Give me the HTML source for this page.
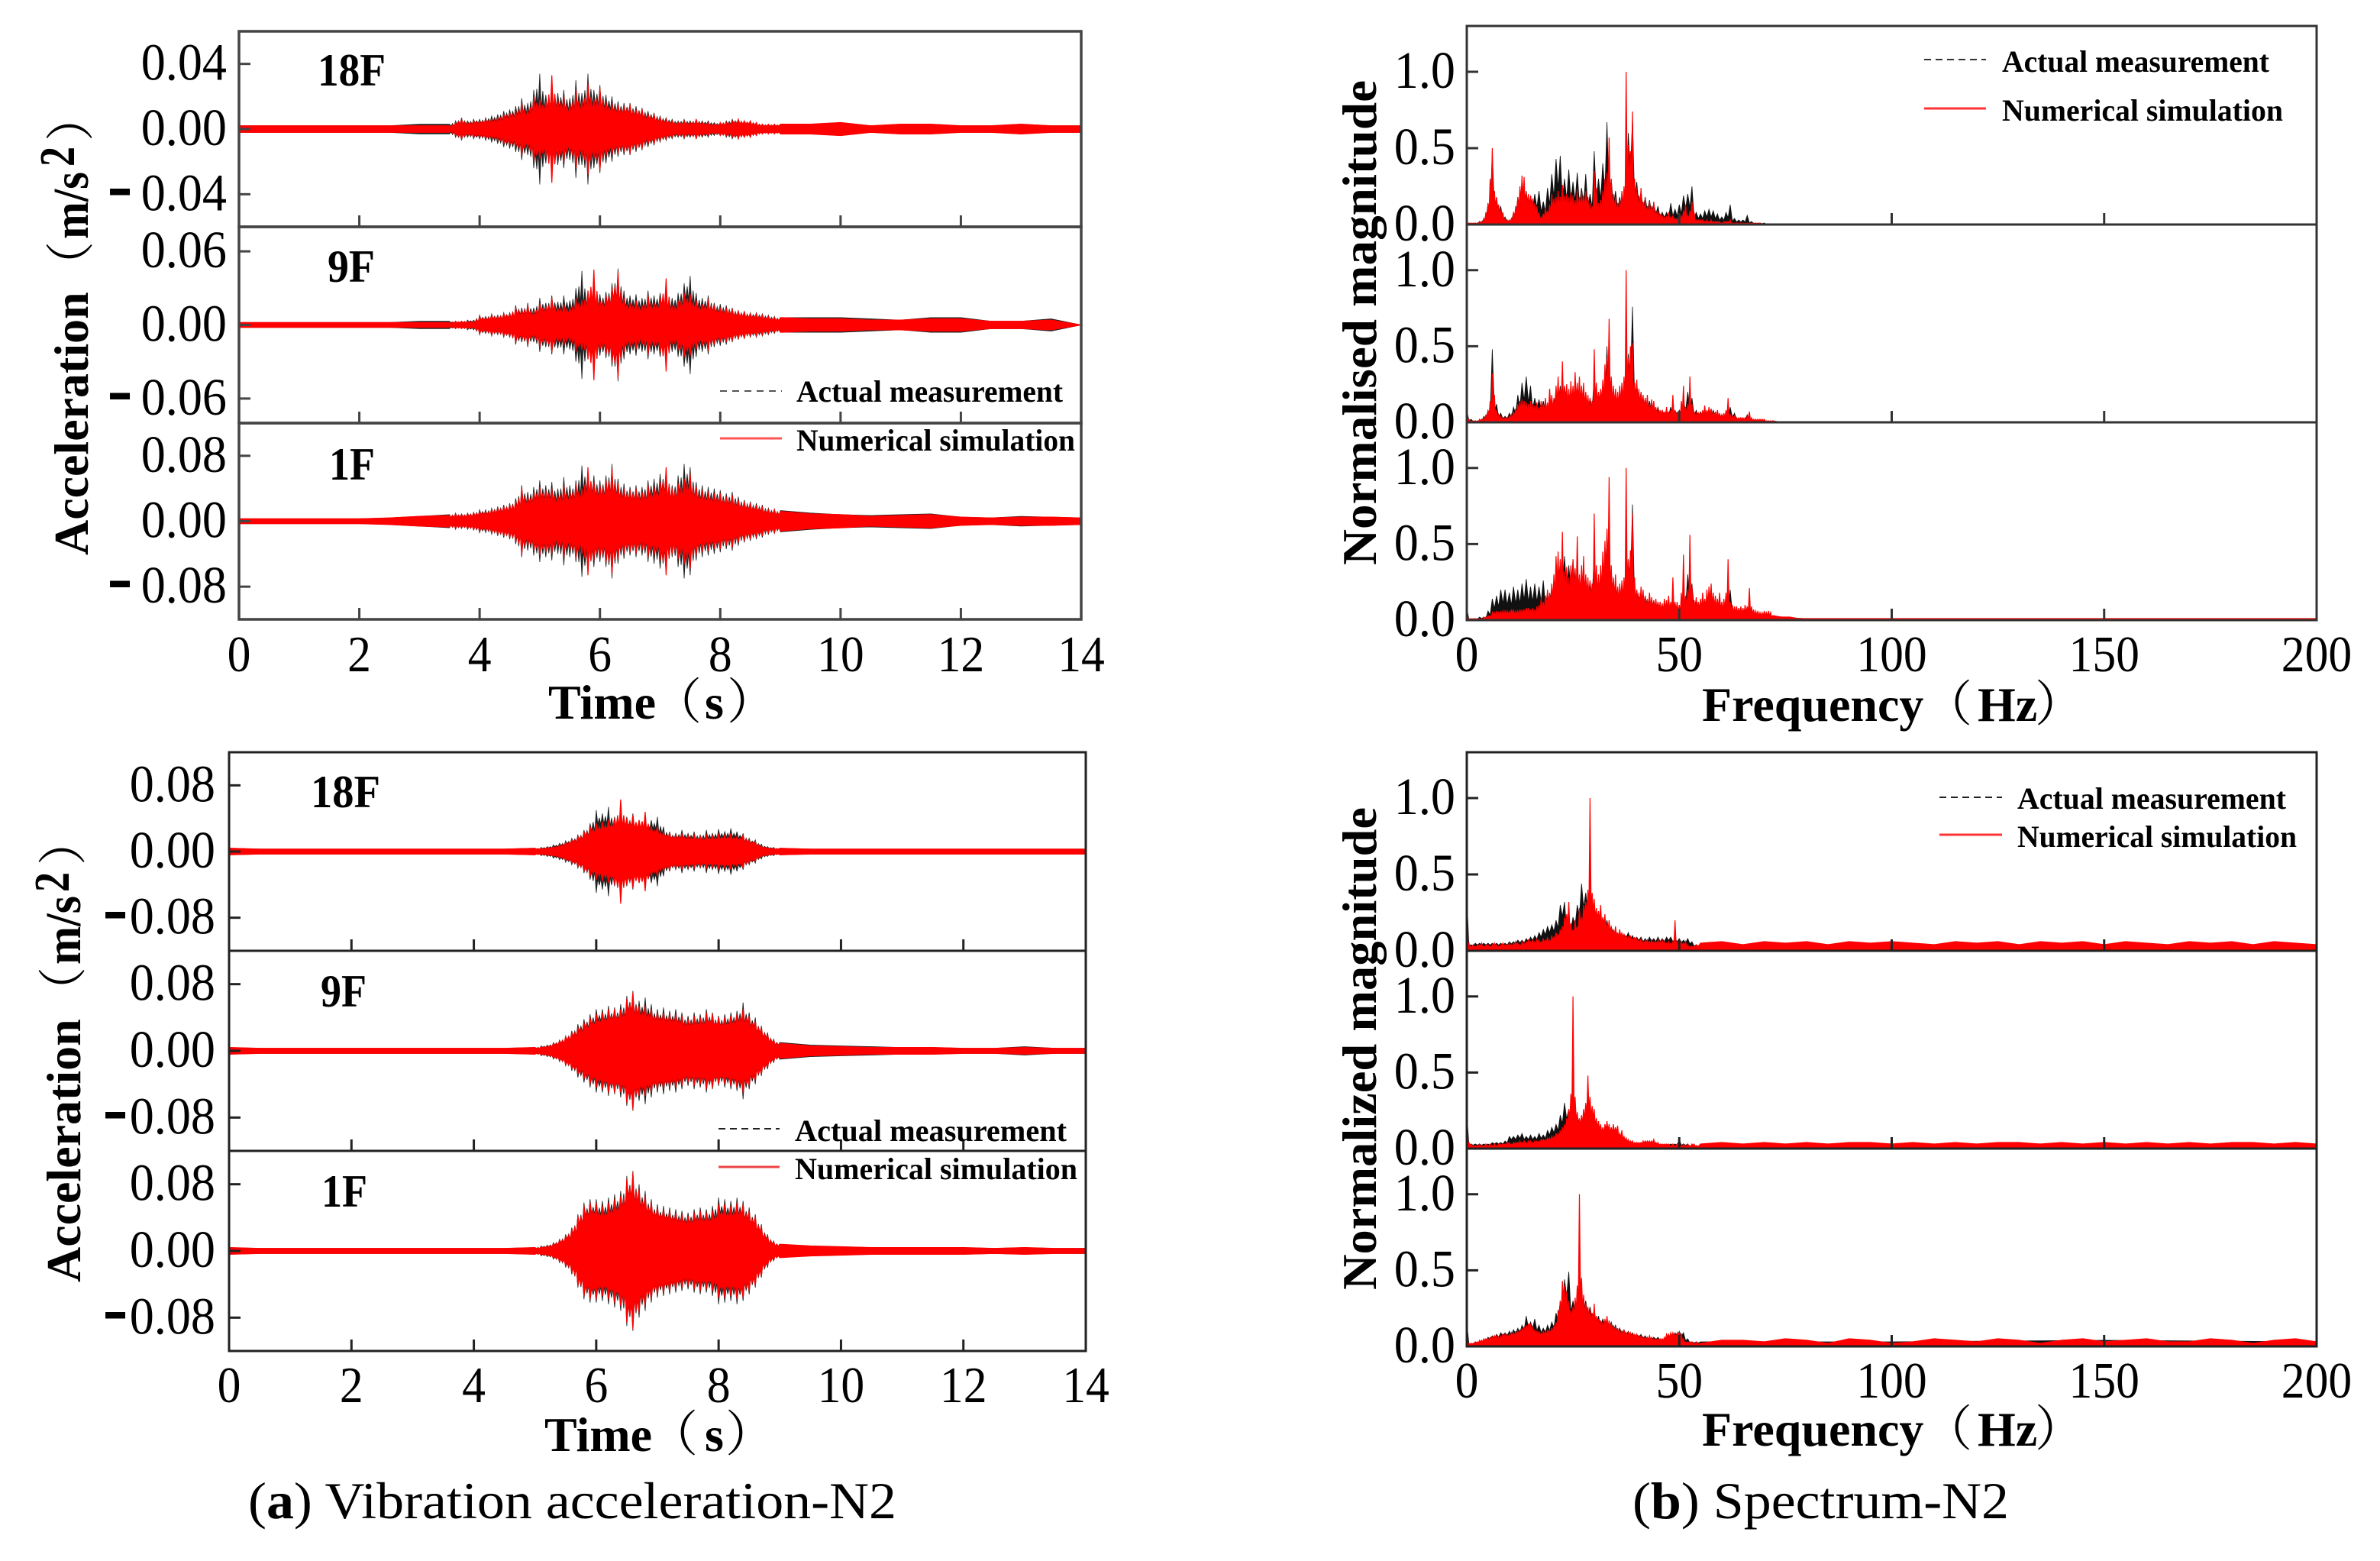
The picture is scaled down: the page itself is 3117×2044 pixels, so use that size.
<!DOCTYPE html>
<html lang="en">
<head>
<meta charset="utf-8">
<title>Vibration acceleration and spectrum N2</title>
<style>
html,body{margin:0;padding:0;background:#fff;}
svg{display:block;}
text{font-family:"Liberation Serif","Noto Serif CJK SC",serif;fill:#000;}
.b{font-weight:bold;}
.lg{font-size:40px;font-weight:bold;}
.fl{font-size:60px;font-weight:bold;}
.ax{font-size:64px;font-weight:bold;}
.cap{font-size:68px;}
</style>
</head>
<body>
<svg id="fig" xmlns="http://www.w3.org/2000/svg" width="3117" height="2044" viewBox="0 0 3117 2044">
<rect x="0" y="0" width="3117" height="2044" fill="#fff"/>
<g id="marks"></g>
<g id="axes"></g>

<g>
<text class="fl" x="416" y="112" textLength="89" lengthAdjust="spacingAndGlyphs">18F</text>
<text class="fl" x="429" y="369" textLength="62" lengthAdjust="spacingAndGlyphs">9F</text>
<text class="fl" x="431" y="628" textLength="60" lengthAdjust="spacingAndGlyphs">1F</text>
<text class="ax" transform="translate(115,727) rotate(-90)"><tspan x="0">Acceleration</tspan><tspan x="347" font-weight="normal">（</tspan><tspan x="414" font-size="66" textLength="88" lengthAdjust="spacingAndGlyphs">m/s</tspan><tspan x="509" dy="-18" font-size="66" textLength="26" lengthAdjust="spacingAndGlyphs">2</tspan><tspan x="542" dy="18" font-weight="normal">）</tspan></text>
<text class="ax" y="941"><tspan x="718">Time</tspan><tspan x="855" font-weight="normal">（</tspan><tspan x="923">s</tspan><tspan x="952" font-weight="normal">）</tspan></text>
<line x1="943" x2="1024" y1="512" y2="512" stroke="#555" stroke-width="2" stroke-dasharray="9 7"/>
<text class="lg" x="1043" y="526" textLength="349" lengthAdjust="spacingAndGlyphs">Actual measurement</text>
<line x1="943" x2="1024" y1="574" y2="574" stroke="#f55" stroke-width="3"/>
<text class="lg" x="1043" y="590" textLength="365" lengthAdjust="spacingAndGlyphs">Numerical simulation</text>
</g>

<g>
<text class="fl" x="407" y="1057" textLength="91" lengthAdjust="spacingAndGlyphs">18F</text>
<text class="fl" x="420" y="1318" textLength="60" lengthAdjust="spacingAndGlyphs">9F</text>
<text class="fl" x="421" y="1580" textLength="60" lengthAdjust="spacingAndGlyphs">1F</text>
<text class="ax" transform="translate(105,1679) rotate(-90)"><tspan x="0">Acceleration</tspan><tspan x="349" font-weight="normal">（</tspan><tspan x="416" font-size="66" textLength="90" lengthAdjust="spacingAndGlyphs">m/s</tspan><tspan x="511" dy="-15" font-size="66" textLength="26" lengthAdjust="spacingAndGlyphs">2</tspan><tspan x="546" dy="15" font-weight="normal">）</tspan></text>
<text class="ax" y="1900"><tspan x="713">Time</tspan><tspan x="850" font-weight="normal">（</tspan><tspan x="923">s</tspan><tspan x="950" font-weight="normal">）</tspan></text>
<line x1="941" x2="1021" y1="1478" y2="1478" stroke="#222" stroke-width="2" stroke-dasharray="9 6"/>
<text class="lg" x="1041" y="1494" textLength="356" lengthAdjust="spacingAndGlyphs">Actual measurement</text>
<line x1="941" x2="1021" y1="1528" y2="1528" stroke="#e44" stroke-width="3"/>
<text class="lg" x="1041" y="1544" textLength="370" lengthAdjust="spacingAndGlyphs">Numerical simulation</text>
</g>

<g>
<text class="ax" transform="translate(1802,740) rotate(-90)" textLength="635" lengthAdjust="spacingAndGlyphs">Normalised magnitude</text>
<text class="ax" y="944"><tspan x="2229">Frequency</tspan><tspan x="2519" font-weight="normal">（</tspan><tspan x="2590">Hz</tspan><tspan x="2665" font-weight="normal">）</tspan></text>
<line x1="2520" x2="2601" y1="78" y2="78" stroke="#333" stroke-width="2" stroke-dasharray="9 6"/>
<text class="lg" x="2622" y="94" textLength="350" lengthAdjust="spacingAndGlyphs">Actual measurement</text>
<line x1="2520" x2="2601" y1="142" y2="142" stroke="#f33" stroke-width="3"/>
<text class="lg" x="2622" y="158" textLength="368" lengthAdjust="spacingAndGlyphs">Numerical simulation</text>
</g>

<g>
<text class="ax" transform="translate(1802,1689) rotate(-90)" textLength="632" lengthAdjust="spacingAndGlyphs">Normalized magnitude</text>
<text class="ax" y="1893"><tspan x="2229">Frequency</tspan><tspan x="2519" font-weight="normal">（</tspan><tspan x="2590">Hz</tspan><tspan x="2665" font-weight="normal">）</tspan></text>
<line x1="2540" x2="2622" y1="1044" y2="1044" stroke="#222" stroke-width="2" stroke-dasharray="9 6"/>
<text class="lg" x="2642" y="1059" textLength="352" lengthAdjust="spacingAndGlyphs">Actual measurement</text>
<line x1="2540" x2="2622" y1="1093" y2="1093" stroke="#f33" stroke-width="3"/>
<text class="lg" x="2642" y="1109" textLength="366" lengthAdjust="spacingAndGlyphs">Numerical simulation</text>
</g>

<text class="cap" x="325" y="1988" textLength="849" lengthAdjust="spacingAndGlyphs">(<tspan font-weight="bold">a</tspan>) Vibration acceleration-N2</text>
<text class="cap" x="2138" y="1988" textLength="493" lengthAdjust="spacingAndGlyphs">(<tspan font-weight="bold">b</tspan>) Spectrum-N2</text>
</svg>

<script>
// ---------- axis tick arrays ----------
const timeTicks = [0, 2, 4, 6, 8, 10, 12, 14];
const freqTicks = [0, 50, 100, 150, 200];
const magTicks = [0, 0.5, 1];
const accTicks18FTop = [0.04, 0, -0.04];
const accTicks9FTop = [0.06, 0, -0.06];
const accTicks1FTop = [0.08, 0, -0.08];
const accTicksBottom = [0.08, 0, -0.08];

// ---------- top time chart: sample times (s) ----------
const timeTop = [0,.5,1,1.5,2,2.5,3,3.5,
3.6,3.7,3.8,3.9,4,4.1,4.2,4.3,4.4,4.5,
4.6,4.7,4.8,4.9,5,5.1,5.2,5.3,5.4,5.5,
5.6,5.7,5.8,5.9,6,6.1,6.2,6.3,6.4,6.5,
6.6,6.7,6.8,6.9,7,7.1,7.2,7.3,7.4,7.5,
7.6,7.7,7.8,7.9,8,8.1,8.2,8.3,8.4,8.5,
8.6,8.7,8.8,8.9,9,
9.5,10,10.5,11,11.5,12,12.5,13,13.5,14];
// envelope amplitudes in 0.001 m/s^2
const ampTop18FMeasured = [2,2,2,2,2,2,3,3,
5,7,5,6,6,7,8,9,11,12,
14,19,16,24,34,21,26,22,24,19,
30,22,34,24,27,21,20,17,16,16,
14,13,11,10,8,7,6,5,6,5,
6,5,5,4,4,5,6,6,5,5,
4,3,3,3,3,
3,4,2,3,3,2,2,3,2,2];
const ampTop18FSimulated = [2,2,2,2,2,2,2,2,
4,6,4,5,5,6,6,7,9,10,
11,16,12,20,18,17,33,18,20,15,
24,17,28,18,25,17,16,15,14,15,
12,12,9,9,7,6,5,4,5,4,
6,4,4,3,4,4,5,6,5,5,
4,3,3,3,3,
3,4,2,3,3,2,2,3,2,2];
const ampTop9FMeasured = [2,2,2,2,2,2,3,3,
3,3,4,4,8,7,9,8,10,10,
16,14,18,14,22,18,24,19,24,20,
30,44,26,38,25,27,34,46,28,24,
25,22,28,24,26,30,22,26,34,40,
26,22,24,18,17,16,14,12,11,10,
10,9,8,7,6,
6,6,5,4,6,6,3,3,5,0];
const ampTop9FSimulated = [2,2,2,2,2,2,2,2,
3,3,3,3,7,6,8,7,9,9,
14,12,16,11,18,15,22,14,17,14,
22,20,28,45,20,24,30,43,22,18,
20,16,24,18,22,38,16,20,26,25,
20,17,21,16,14,14,13,11,11,9,
9,8,7,6,6,
5,5,4,4,5,5,3,3,4,0];
const ampTop1FMeasured = [3,3,3,3,3,4,6,8,
10,9,10,11,14,14,16,18,20,22,
28,44,36,42,50,44,48,40,54,44,
50,68,60,56,50,56,70,52,46,42,
44,42,50,52,58,64,44,56,70,66,
48,44,42,40,38,34,36,30,26,24,
22,20,16,15,13,
10,8,7,8,9,5,4,6,5,4];
const ampTop1FSimulated = [3,3,3,3,3,4,6,7,
9,8,9,10,12,12,14,16,18,20,
24,40,30,36,42,38,40,32,44,36,
46,40,66,48,44,50,64,46,40,38,
40,36,44,42,48,66,40,46,52,58,
42,38,36,34,34,30,32,26,24,22,
20,18,14,14,12,
9,8,6,7,8,5,4,5,5,4];

// ---------- bottom time chart ----------
const timeBottom = [0,.5,1,1.5,2,2.5,3,3.5,4,4.5,5,
5.1,5.2,5.3,5.4,5.5,5.6,5.7,5.8,5.9,6,
6.1,6.2,6.3,6.4,6.5,6.6,6.7,6.8,6.9,7,
7.1,7.2,7.3,7.4,7.5,7.6,7.7,7.8,7.9,8,
8.1,8.2,8.3,8.4,8.5,8.6,8.7,8.8,8.9,9,
9.5,10,10.5,11,11.5,12,12.5,13,13.5,14];
const ampBottom18FMeasured = [4,3,3,3,3,3,3,3,3,3,4,
5,6,8,10,13,16,20,26,34,50,
46,54,42,56,42,46,38,40,38,42,
30,24,22,26,22,24,20,26,22,27,
24,28,24,22,16,14,9,6,5,4,
3,3,3,3,3,3,3,3,3,3];
const ampBottom18FSimulated = [4,3,3,3,3,3,3,3,3,3,4,
4,5,6,8,11,14,18,24,30,34,
36,38,40,63,40,44,38,48,30,30,
24,22,20,22,19,20,18,20,19,21,
20,22,18,20,14,12,7,5,4,4,
3,3,3,3,3,3,3,3,3,3];
const ampBottom9FMeasured = [4,3,3,3,3,3,3,3,3,3,4,
6,7,10,13,18,24,32,38,44,50,
50,54,52,56,66,72,60,64,56,50,
52,48,50,46,42,46,44,50,46,42,
44,46,48,58,46,40,30,22,14,10,
7,6,5,4,4,3,3,5,3,3];
const ampBottom9FSimulated = [4,3,3,3,3,3,3,3,3,3,4,
5,6,9,12,17,22,28,34,40,44,
46,50,50,50,62,70,54,54,50,46,
46,44,44,42,38,42,40,46,44,40,
40,42,44,50,42,36,28,20,13,9,
6,5,4,4,4,3,3,4,3,3];
const ampBottom1FMeasured = [4,3,3,3,3,3,3,3,3,3,4,
6,7,10,14,20,28,44,58,62,62,
60,64,68,72,90,96,80,72,62,56,
54,52,50,48,46,50,52,50,54,64,
62,60,64,60,52,44,32,20,12,8,
6,5,4,4,4,4,3,4,3,3];
const ampBottom1FSimulated = [4,3,3,3,3,3,3,3,3,3,4,
5,6,9,13,18,26,42,54,58,58,
54,58,62,66,86,94,74,66,58,52,
50,48,46,44,42,46,48,46,48,56,
56,54,58,56,48,42,30,18,11,8,
6,5,4,4,4,4,3,4,3,3];

// ---------- top spectrum chart: frequencies (Hz), magnitudes in % of peak ----------
const freqTopSim = [0,.5,1,1.5,2,2.5,3,3.5,4,4.5,5,5.5,6,6.5,7,7.5,8,8.5,9,9.5,
10,10.5,11,11.5,12,12.5,13,13.5,14,14.5,15,15.5,16,16.5,17,17.5,18,18.5,19,19.5,
20,20.5,21,21.5,22,22.5,23,23.5,24,24.5,25,25.5,26,26.5,27,27.5,28,28.5,29,29.5,
30,30.5,31,31.5,32,32.5,33,33.5,34,34.5,35,35.5,36,36.5,37,37.5,38,38.5,39,39.5,
40,40.5,41,41.5,42,42.5,43,43.5,44,44.5,45,45.5,46,46.5,47,47.5,48,48.5,49,49.5,
50,50.5,51,51.5,52,52.5,53,53.5,54,54.5,55,55.5,56,56.5,57,57.5,58,58.5,59,59.5,
60,60.5,61,61.5,62,62.5,63,63.5,64,64.5,65,65.5,66,66.5,67,67.5,68,68.5,69,69.5,
70,70.5,71,71.5,72,74,76,78,80,100,200];
const freqTopMeas = [0,1,2,3,4,5,6,7,8,9,10,11,12,13,14,15,16,17,18,19,
20,21,22,23,24,25,26,27,28,29,30,31,32,33,34,35,36,37,38,39,
40,41,42,43,44,45,46,47,48,49,50,51,52,53,54,55,56,57,58,59,
60,61,62,63,64,65,66,67,68,69,70,71,72,80,200];
const magTop18FSimulated = [1,1,1,1,1,1,2,2,4,8,
14,30,50,22,18,13,10,8,4,3,
3,4,8,12,18,25,32,31,21,20,
19,17,14,12,8,5,7,11,9,13,
20,17,18,22,18,26,19,20,18,21,
19,16,23,18,21,19,22,18,14,12,
35,24,14,16,22,30,34,57,30,20,
18,14,16,22,25,100,52,48,74,30,
24,19,24,15,17,12,15,12,15,9,
9,7,6,5,5,8,5,6,4,4,
4,6,9,13,6,9,15,8,3,3,
3,3,2,3,2,3,2,2,2,2,
1,2,2,2,3,1,1,1,1,1,
1,1,1,1,1,1,1,1,1,0,
0,0,0,0,0,0,0,0,0,0,0];
const magTop9FSimulated = [8,2,1,1,1,1,2,2,3,5,
8,14,32,18,8,5,4,3,3,3,
4,5,7,9,12,14,15,14,13,12,
14,12,11,13,10,14,12,16,13,22,
18,16,24,30,22,40,24,25,22,27,
24,33,26,30,24,26,20,18,16,14,
48,26,20,22,28,38,42,68,30,24,
22,20,24,26,30,100,42,50,52,26,
28,22,20,18,16,18,12,15,14,10,
9,8,8,7,10,7,8,18,8,7,
6,14,24,10,12,30,12,7,6,6,
6,8,11,8,10,9,7,7,8,6,
5,6,8,16,5,4,4,3,3,3,
3,3,4,7,3,2,2,2,2,2,
2,1,1,1,1,0,0,0,0,0,0];
const magTop1FSimulated = [8,1,1,1,1,1,1,1,2,2,
3,3,5,5,6,5,6,6,6,6,
6,7,7,6,6,7,7,7,8,8,
7,8,7,9,10,14,12,16,20,18,
24,30,42,45,40,58,32,35,28,36,
40,34,55,30,36,42,30,28,26,24,
70,36,30,36,45,52,60,94,36,28,
30,22,24,26,28,100,40,46,70,28,
20,18,22,20,16,14,18,15,13,14,
12,12,11,14,13,16,12,28,12,12,
10,18,43,16,20,56,22,13,15,12,
14,18,14,20,22,24,18,16,14,18,
12,14,18,40,12,10,9,9,8,9,
8,10,9,21,9,7,6,6,5,5,
6,5,6,5,3,2,2,1,1,1,1];
const magTop18FMeasured = [1,1,1,2,4,14,48,18,12,5,
3,8,18,30,22,19,20,22,15,24,
33,43,45,30,36,28,34,24,33,20,
48,30,40,67,30,22,18,20,60,70,
28,22,18,16,14,12,8,8,14,10,
13,19,20,25,8,7,9,10,9,7,
5,8,13,4,3,3,6,2,1,1,
1,0,0,0,0];
const magTop9FMeasured = [8,2,1,1,4,8,48,12,6,4,
6,10,18,26,30,24,16,15,14,12,
14,22,24,24,20,22,24,20,18,16,
30,20,25,50,24,18,20,20,45,76,
26,20,16,14,12,10,8,8,10,8,
8,14,20,16,8,7,8,9,8,6,
5,6,10,6,3,3,5,2,1,1,
1,1,0,0,0];
const magTop1FMeasured = [8,1,1,2,2,6,14,16,20,20,
18,22,20,24,27,22,24,22,26,18,
22,30,40,42,36,40,34,30,28,26,
44,28,28,60,32,24,22,22,40,76,
20,18,16,15,13,12,10,12,10,10,
9,16,30,24,14,12,14,14,14,12,
10,12,20,8,6,6,8,6,4,4,
3,3,2,1,1];

// ---------- bottom spectrum chart ----------
const freqBottomSim = [0,.5,1,1.5,2,2.5,3,3.5,4,4.5,5,5.5,6,6.5,7,7.5,8,8.5,9,9.5,
10,10.5,11,11.5,12,12.5,13,13.5,14,14.5,15,15.5,16,16.5,17,17.5,18,18.5,19,19.5,
20,20.5,21,21.5,22,22.5,23,23.5,24,24.5,25,25.5,26,26.5,27,27.5,28,28.5,29,29.5,
30,30.5,31,31.5,32,32.5,33,33.5,34,34.5,35,35.5,36,36.5,37,37.5,38,38.5,39,39.5,
40,40.5,41,41.5,42,42.5,43,43.5,44,44.5,45,45.5,46,46.5,47,47.5,48,48.5,49,49.5,
50,50.5,51,51.5,52,52.5,53,53.5,54,
55,60,65,70,75,80,85,90,95,100,105,110,115,120,125,130,135,140,145,150,155,160,165,170,175,180,185,190,195,200];
const freqBottomMeas = [0,1,2,3,4,5,6,7,8,9,10,11,12,13,14,15,16,17,18,19,
20,21,22,23,24,25,26,27,28,29,30,31,32,33,34,35,36,37,38,39,
40,41,42,43,44,45,46,47,48,49,50,51,52,53,54,55,100,150,200];
const magBottom18FSimulated = [35,5,3,4,3,4,4,5,3,4,
4,3,4,5,4,3,4,5,4,4,
5,4,5,6,5,4,6,5,6,7,
6,7,6,8,7,6,8,7,9,7,
10,9,12,11,14,16,22,24,32,18,
14,20,16,28,22,30,32,40,100,38,
34,28,26,30,22,24,18,20,16,14,
16,12,14,12,11,10,9,10,8,9,
8,7,8,6,7,7,6,7,6,6,
7,6,7,6,5,6,5,6,20,6,
5,6,5,6,4,3,3,3,4,
5,6,4,6,5,6,4,6,5,6,5,4,6,5,6,4,6,5,6,4,6,5,4,6,5,6,4,6,5,4];
const magBottom9FSimulated = [22,4,3,2,2,2,3,2,2,3,
2,3,2,3,2,3,3,3,3,4,
4,3,4,4,4,5,4,5,4,5,
5,4,5,5,5,6,6,6,7,7,
8,8,10,10,12,14,16,20,26,36,
100,34,24,20,22,26,30,48,34,28,
26,20,18,16,14,16,18,16,14,16,
14,15,10,12,8,7,6,5,5,4,
4,4,4,5,5,5,5,5,6,4,
4,3,3,3,3,3,2,3,2,3,
3,2,3,2,3,2,3,3,2,
3,4,3,4,3,4,3,4,4,3,4,3,4,3,4,4,3,4,3,4,3,4,3,4,3,4,4,3,4,3];
const magBottom1FSimulated = [15,2,2,2,3,3,4,4,5,5,
5,6,6,7,7,6,7,8,8,8,
8,9,9,10,10,11,12,13,14,15,
15,13,11,10,10,9,10,10,11,11,
12,14,16,24,30,43,40,36,30,24,
26,32,40,100,45,34,28,26,24,22,
28,20,18,17,16,18,20,17,15,14,
13,12,11,10,11,9,9,9,8,8,
8,7,7,6,6,6,7,6,5,5,
5,5,5,6,8,8,9,9,8,9,
9,8,5,3,3,3,3,2,3,
2,4,4,3,5,4,2,5,4,2,3,5,4,3,5,4,2,4,5,3,4,5,3,3,5,4,2,4,5,3];
const magBottom18FMeasured = [36,4,5,5,5,5,5,5,5,5,
6,6,7,7,8,9,10,12,14,16,
17,20,30,32,18,22,30,44,38,34,
30,26,22,20,16,14,12,11,12,10,
9,9,8,9,8,9,8,9,9,8,
8,7,8,6,4,3,4,4,3];
const magBottom9FMeasured = [23,3,3,3,3,3,4,4,4,5,
8,8,9,10,8,9,8,10,9,12,
14,16,22,30,26,30,22,20,18,14,
12,10,8,8,6,6,6,5,4,4,
4,4,5,4,3,3,3,3,3,3,
6,3,3,2,2,2,3,3,2];
const magBottom1FMeasured = [16,2,3,3,4,6,7,8,9,9,
10,11,12,14,20,16,18,14,12,14,
16,22,30,44,49,30,30,36,30,26,
24,20,18,18,16,14,12,11,10,9,
8,8,7,6,6,6,5,6,8,9,
10,9,5,3,3,3,3,4,3];

// ---------- rendering ----------
const NS = 'http://www.w3.org/2000/svg';
const marks = document.getElementById('marks');
const axes = document.getElementById('axes');
const MILLI = 0.001;
const PERCENT = 0.01;
const MAX_NOTCH_STEP_S = 0.2;
const MAX_NOTCH_STEP_HZ = 1;
let clipCount = 0;

function scaleLinear(d0, d1, r0, r1) {
  return function (v) { return r0 + (v - d0) / (d1 - d0) * (r1 - r0); };
}

function addClip(box) {
  clipCount += 1;
  const cp = document.createElementNS(NS, 'clipPath');
  cp.setAttribute('id', 'clip' + clipCount);
  const r = document.createElementNS(NS, 'rect');
  r.setAttribute('x', box.left);
  r.setAttribute('y', box.top);
  r.setAttribute('width', box.right - box.left);
  r.setAttribute('height', box.bottom - box.top);
  cp.appendChild(r);
  marks.appendChild(cp);
  return 'url(#clip' + clipCount + ')';
}

function addPath(d, fill, stroke, strokeWidth, clip, name) {
  const p = document.createElementNS(NS, 'path');
  p.setAttribute('d', d);
  p.setAttribute('fill', fill);
  p.setAttribute('stroke', stroke);
  p.setAttribute('stroke-width', strokeWidth);
  p.setAttribute('stroke-linejoin', 'miter');
  p.setAttribute('clip-path', clip);
  
  
  marks.appendChild(p);
}

// symmetric waveform envelope around zero; in the densely read active part the
// outline dips between samples so the filled oscillation keeps its comb-like edge
function waveformPath(times, amps, x, y, notch) {
  const up = [];
  const dn = [];
  function put(t, a) {
    up.push(x(t).toFixed(1) + ' ' + y(a * MILLI).toFixed(1));
    dn.push(x(t).toFixed(1) + ' ' + y(-a * MILLI).toFixed(1));
  }
  times.forEach(function (t, i) {
    put(t, amps[i]);
    if (i < times.length - 1 && times[i + 1] - t <= MAX_NOTCH_STEP_S) {
      const dt = times[i + 1] - t;
      const low = Math.min(amps[i], amps[i + 1]) * notch;
      const mean = (amps[i] + amps[i + 1]) / 2;
      put(t + dt * 0.25, low);
      put(t + dt * 0.5, mean * 0.85);
      put(t + dt * 0.75, low);
    }
  });
  return 'M' + up.join('L') + 'L' + dn.reverse().join('L') + 'Z';
}

// spectrum filled from zero to the magnitude, with a dip between read samples
function spectrumPath(freqs, mags, x, y, notch) {
  const pts = [];
  freqs.forEach(function (f, i) {
    pts.push(x(f).toFixed(1) + ' ' + y(mags[i] * PERCENT).toFixed(1));
    if (i < freqs.length - 1 && freqs[i + 1] - f <= MAX_NOTCH_STEP_HZ) {
      const mid = (f + freqs[i + 1]) / 2;
      const low = Math.min(mags[i], mags[i + 1]) * notch;
      pts.push(x(mid).toFixed(1) + ' ' + y(low * PERCENT).toFixed(1));
    }
  });
  return 'M' + x(freqs[0]).toFixed(1) + ' ' + y(0).toFixed(1) + 'L' + pts.join('L') + 'L' + x(freqs[freqs.length - 1]).toFixed(1) + ' ' + y(0).toFixed(1) + 'Z';
}

function drawFrame(box, xScale, xTickVals, yScale, yTickVals, cfg) {
  const f = document.createElementNS(NS, 'rect');
  f.setAttribute('x', box.left);
  f.setAttribute('y', box.top);
  f.setAttribute('width', box.right - box.left);
  f.setAttribute('height', box.bottom - box.top);
  f.setAttribute('fill', 'none');
  f.setAttribute('stroke', cfg.ink);
  f.setAttribute('stroke-width', cfg.frameWidth);
  
  
  axes.appendChild(f);

  xTickVals.forEach(function (v) {
    const px = xScale(v);
    const t = document.createElementNS(NS, 'line');
    t.setAttribute('x1', px);
    t.setAttribute('x2', px);
    t.setAttribute('y1', box.bottom);
    t.setAttribute('y2', box.bottom - 15);
    t.setAttribute('stroke', cfg.ink);
    t.setAttribute('stroke-width', '3');
    
    
    axes.appendChild(t);
    if (box.showXLabels) {
      const l = document.createElementNS(NS, 'text');
      l.setAttribute('transform', 'translate(' + px + ',' + cfg.xLabelY + ') scale(0.92,1)');
      l.setAttribute('text-anchor', 'middle');
      l.setAttribute('font-size', '67');
      
      
      l.textContent = String(v);
      axes.appendChild(l);
    }
  });

  yTickVals.forEach(function (v) {
    const py = yScale(v);
    const t = document.createElementNS(NS, 'line');
    t.setAttribute('x1', box.left);
    t.setAttribute('x2', box.left + 15);
    t.setAttribute('y1', py);
    t.setAttribute('y2', py);
    t.setAttribute('stroke', cfg.ink);
    t.setAttribute('stroke-width', '3');
    
    
    axes.appendChild(t);
    const l = document.createElementNS(NS, 'text');
    l.setAttribute('transform', 'translate(' + cfg.yLabelRight + ',' + (py + 21) + ') scale(0.93,1)');
    l.setAttribute('text-anchor', 'end');
    l.setAttribute('font-size', '69');
    
    
    l.textContent = Math.abs(v).toFixed(cfg.decimals);
    axes.appendChild(l);
    if (v < 0) {
      const m = document.createElementNS(NS, 'text');
      m.setAttribute('x', cfg.minusX);
      m.setAttribute('y', py + 20);
      m.setAttribute('text-anchor', 'middle');
      m.setAttribute('font-size', '100');
      m.setAttribute('font-weight', 'bold');
      
      
      m.textContent = '-';
      axes.appendChild(m);
    }
  });
}

function drawWavePanel(box, domain, ticks, times, measured, simulated, cfg) {
  const x = scaleLinear(0, 14, box.left, box.right);
  const y = scaleLinear(-domain, domain, box.bottom, box.top);
  const clip = addClip(box);
  addPath(waveformPath(times, measured, x, y, cfg.notch), '#222', '#222', 0.8, clip, box.name + '-measurement-series');
  addPath(waveformPath(times, simulated, x, y, cfg.notch), '#f00', '#f00', 1.2, clip, box.name + '-simulation-series');
  drawFrame(box, x, timeTicks, y, ticks, cfg);
}

function drawSpectrumPanel(box, freqsMeas, measured, freqsSim, simulated, cfg) {
  const x = scaleLinear(0, 200, box.left, box.right);
  const y = scaleLinear(0, 1.3, box.bottom, box.top);
  const clip = addClip(box);
  addPath(spectrumPath(freqsMeas, measured, x, y, cfg.notch), '#111', '#111', 0.8, clip, box.name + '-measurement-series');
  addPath(spectrumPath(freqsSim, simulated, x, y, cfg.notch), '#f00', '#f00', 1.2, clip, box.name + '-simulation-series');
  drawFrame(box, x, freqTicks, y, magTicks, cfg);
}

const cfgWaveTop = { xLabelY: 879, yLabelRight: 297, decimals: 2, minusX: 157, notch: 0.6, ink: '#444', frameWidth: 3.5 };
const cfgWaveBottom = { xLabelY: 1836, yLabelRight: 282, decimals: 2, minusX: 151, notch: 0.72, ink: '#222', frameWidth: 3 };
const cfgSpecTop = { xLabelY: 879, yLabelRight: 1906, decimals: 1, minusX: 0, notch: 0.55, ink: '#333', frameWidth: 3 };
const cfgSpecBottom = { xLabelY: 1830, yLabelRight: 1906, decimals: 1, minusX: 0, notch: 0.75, ink: '#222', frameWidth: 3 };

drawWavePanel({ name: 'time-top-18f', left: 313, right: 1416, top: 41, bottom: 297 }, 0.06, accTicks18FTop, timeTop, ampTop18FMeasured, ampTop18FSimulated, cfgWaveTop);
drawWavePanel({ name: 'time-top-9f', left: 313, right: 1416, top: 297, bottom: 554 }, 0.08, accTicks9FTop, timeTop, ampTop9FMeasured, ampTop9FSimulated, cfgWaveTop);
drawWavePanel({ name: 'time-top-1f', left: 313, right: 1416, top: 554, bottom: 811, showXLabels: true }, 0.12, accTicks1FTop, timeTop, ampTop1FMeasured, ampTop1FSimulated, cfgWaveTop);

drawWavePanel({ name: 'time-bottom-18f', left: 300, right: 1422, top: 985, bottom: 1245 }, 0.12, accTicksBottom, timeBottom, ampBottom18FMeasured, ampBottom18FSimulated, cfgWaveBottom);
drawWavePanel({ name: 'time-bottom-9f', left: 300, right: 1422, top: 1245, bottom: 1507 }, 0.12, accTicksBottom, timeBottom, ampBottom9FMeasured, ampBottom9FSimulated, cfgWaveBottom);
drawWavePanel({ name: 'time-bottom-1f', left: 300, right: 1422, top: 1507, bottom: 1769, showXLabels: true }, 0.12, accTicksBottom, timeBottom, ampBottom1FMeasured, ampBottom1FSimulated, cfgWaveBottom);

drawSpectrumPanel({ name: 'spectrum-top-18f', left: 1921, right: 3034, top: 34, bottom: 294 }, freqTopMeas, magTop18FMeasured, freqTopSim, magTop18FSimulated, cfgSpecTop);
drawSpectrumPanel({ name: 'spectrum-top-9f', left: 1921, right: 3034, top: 294, bottom: 553 }, freqTopMeas, magTop9FMeasured, freqTopSim, magTop9FSimulated, cfgSpecTop);
drawSpectrumPanel({ name: 'spectrum-top-1f', left: 1921, right: 3034, top: 553, bottom: 812, showXLabels: true }, freqTopMeas, magTop1FMeasured, freqTopSim, magTop1FSimulated, cfgSpecTop);

drawSpectrumPanel({ name: 'spectrum-bottom-18f', left: 1921, right: 3034, top: 985, bottom: 1245 }, freqBottomMeas, magBottom18FMeasured, freqBottomSim, magBottom18FSimulated, cfgSpecBottom);
drawSpectrumPanel({ name: 'spectrum-bottom-9f', left: 1921, right: 3034, top: 1245, bottom: 1504 }, freqBottomMeas, magBottom9FMeasured, freqBottomSim, magBottom9FSimulated, cfgSpecBottom);
drawSpectrumPanel({ name: 'spectrum-bottom-1f', left: 1921, right: 3034, top: 1504, bottom: 1763, showXLabels: true }, freqBottomMeas, magBottom1FMeasured, freqBottomSim, magBottom1FSimulated, cfgSpecBottom);
</script>
</body>
</html>
